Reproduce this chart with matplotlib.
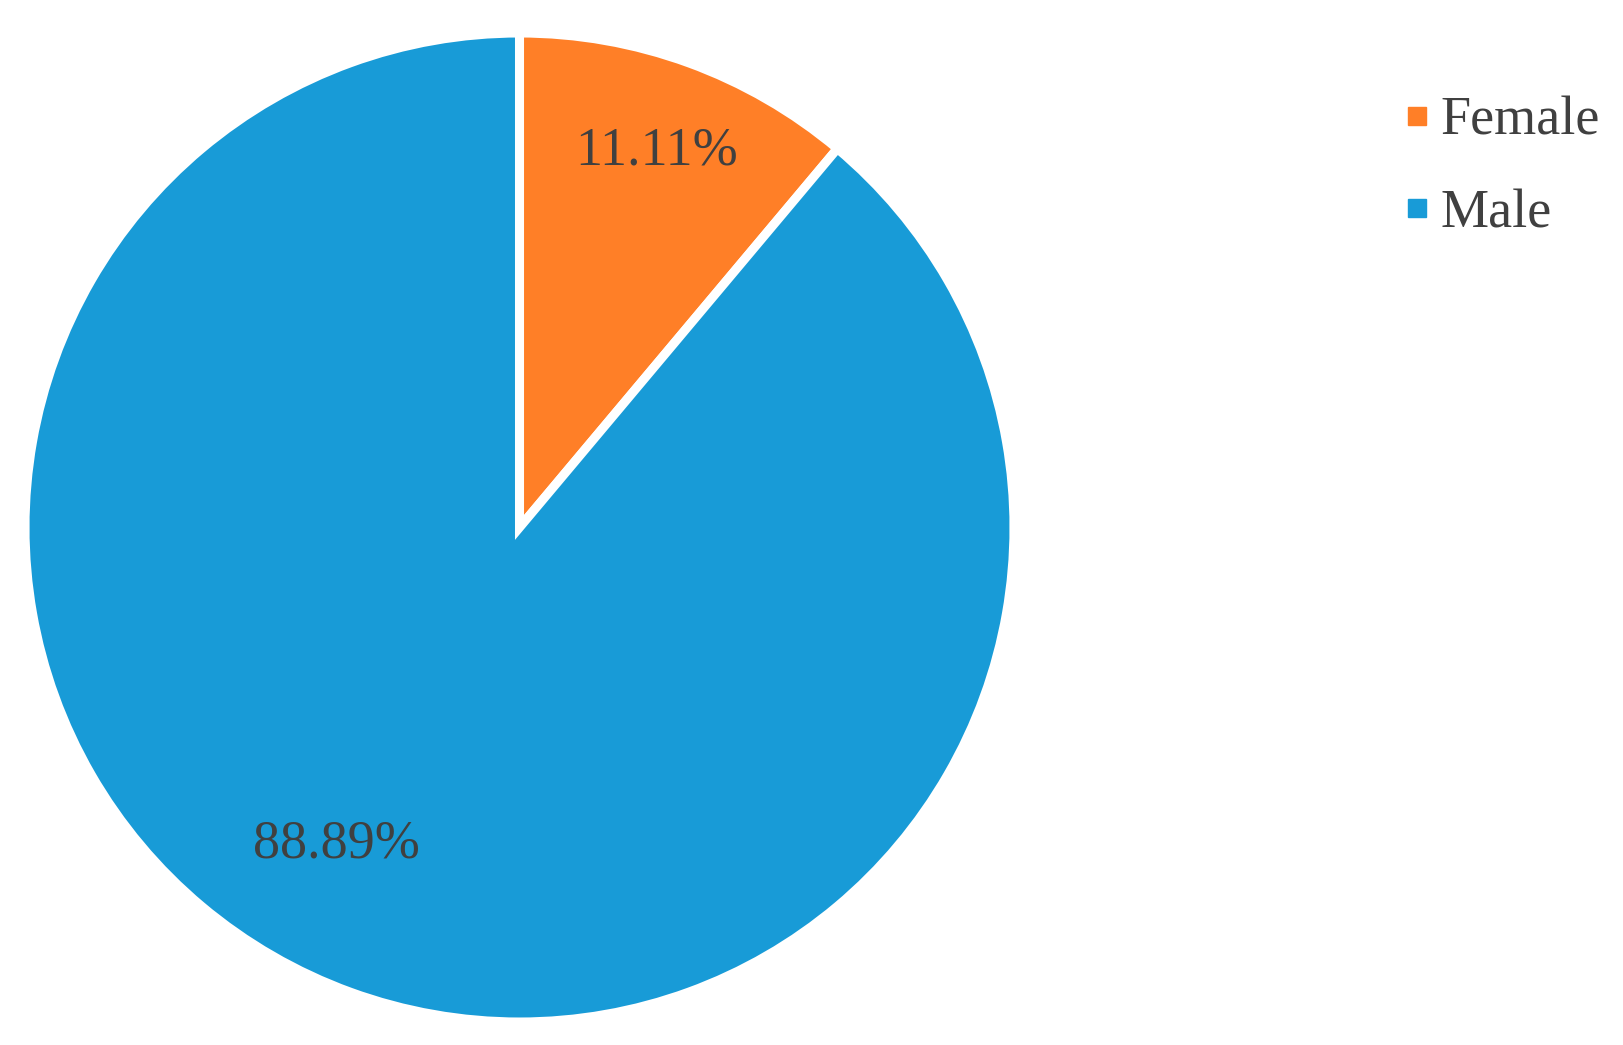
import matplotlib
matplotlib.use("Agg")
import matplotlib.pyplot as plt
from matplotlib.lines import Line2D
import numpy as np

categories = ["Female", "Male"]
values = [11.11, 88.89]
colors = ["#FF7F27", "#189BD7"]
label_dist = [0.81, 0.74]
label_angle_offset = [0, -10]

plt.rcParams['font.family'] = ['Liberation Serif', 'DejaVu Serif']

fig = plt.figure(figsize=(16.23, 10.45), dpi=100)
ax = fig.add_axes([25/1623, 23/1045, 989/1623, 989/1045])

wedges, _ = ax.pie(values, colors=colors, startangle=90, counterclock=False,
                   radius=1.0, wedgeprops=dict(edgecolor="white", linewidth=6.5))
ax.set_xlim(-1, 1)
ax.set_ylim(-1, 1)
ax.set_aspect('equal')
ax.axis('off')

for w, v, d, off in zip(wedges, values, label_dist, label_angle_offset):
    ang = np.deg2rad((w.theta1 + w.theta2) / 2 + off)
    ax.text(d * np.cos(ang), d * np.sin(ang), f"{v:.2f}%", ha='center', va='center',
            fontsize=39, color="#404040")

handles = [Line2D([], [], marker='s', ls='', color=c, markersize=12.5) for c in colors]
fig.legend(handles, categories, loc='upper left', bbox_to_anchor=(1403/1623, 1 - 96/1045),
           frameon=False, fontsize=39, handlelength=0.5, handletextpad=0.19,
           labelspacing=0.78, labelcolor="#404040", borderaxespad=0, borderpad=0)

fig.savefig("out.png", dpi=100)
